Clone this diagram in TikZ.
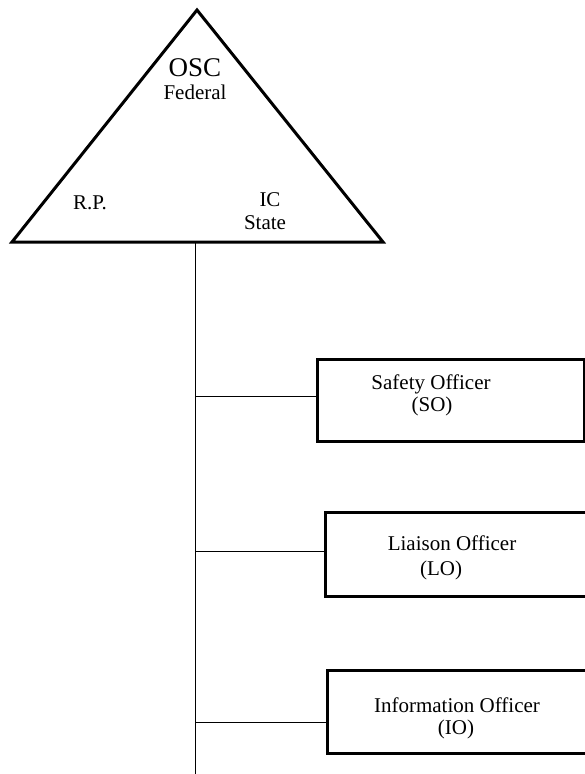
\documentclass[tikz,border=0pt]{standalone}
\usepackage{fontspec}
\setmainfont{Liberation Serif}

\tikzset{
  officebox/.style = {draw, line width=3pt, inner sep=0pt},
  officetext/.style = {inner sep=0pt, font=\fontsize{21}{24}\selectfont},
  feeder/.style = {line width=1pt}
}

\begin{document}
\begin{tikzpicture}[x=1pt, y=-1pt]
\useasboundingbox (0,0) rectangle (585,774);

% command triangle
\coordinate (apex) at (197,10);
\coordinate (tl) at (12,242);
\coordinate (tr) at (383,242);
\draw[line width=3pt, line join=miter] (apex) -- (tr) -- (tl) -- cycle;

\node[inner sep=0pt, font=\fontsize{27}{30}\selectfont] (osc) at (195,68) {OSC};
\node[officetext] (fed) at (195,92) {Federal};
\node[officetext] (rp) at (90,203) {R.P.};
\node[officetext] (ic) at (270,200) {IC};
\node[officetext] (state) at (265,223) {State};

% stem
\coordinate (stemtop) at (195,242);
\coordinate (stembot) at (195,774);
\draw[feeder] (stemtop) -- (stembot);

% officers
\foreach \name/\l/\t/\r/\b/\y in {so/317/359/584/441/396, lo/325/512/587/596/551, io/327/670/587/753/722} {
  \node[officebox, minimum width=\r-\l, minimum height=\b-\t] (\name) at ({(\l+\r)/2},{(\t+\b)/2}) {};
  \coordinate (\name j) at (195,\y);
  \draw[feeder] (\name j) -- (\name j -| \name.west);
}

\node[officetext] (sotop) at (431,384) {Safety Officer};
\node[officetext] (sobot) at (432,406) {(SO)};
\node[officetext] (lotop) at (452,543) {Liaison Officer};
\node[officetext] (lobot) at (441,570) {(LO)};
\node[officetext] (iotop) at (457,705) {Information Officer};
\node[officetext] (iobot) at (456,729) {(IO)};

\end{tikzpicture}
\end{document}
